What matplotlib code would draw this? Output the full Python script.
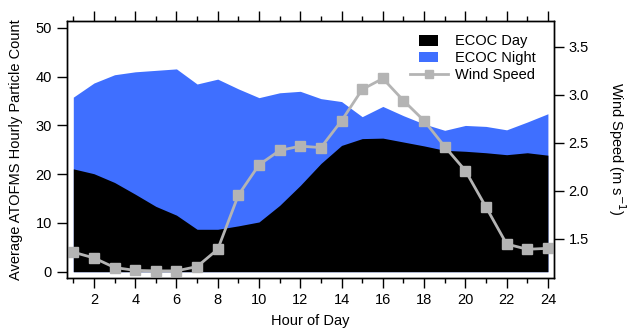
import matplotlib
matplotlib.use("Agg")
import matplotlib.pyplot as plt
from matplotlib.legend_handler import HandlerPatch
from matplotlib.lines import Line2D
from matplotlib.patches import Rectangle
from matplotlib.ticker import MultipleLocator

plt.rcParams["font.family"] = ["Liberation Sans", "DejaVu Sans"]

hours = list(range(1, 25))
ecoc_day = [21.1, 20.1, 18.3, 15.9, 13.4, 11.6, 8.7, 8.7, 9.4, 10.2, 13.6, 17.7,
            22.2, 25.9, 27.3, 27.4, 26.6, 25.8, 24.9, 24.7, 24.4, 24.0, 24.4, 23.9]
ecoc_night = [35.8, 38.7, 40.4, 41.0, 41.3, 41.6, 38.5, 39.5, 37.5, 35.7, 36.7, 37.0,
              35.5, 34.9, 31.8, 33.9, 32.0, 30.3, 29.0, 30.0, 29.8, 29.1, 30.7, 32.4]
wind_speed = [1.36, 1.30, 1.20, 1.17, 1.165, 1.165, 1.21, 1.39, 1.955, 2.27, 2.42, 2.465,
              2.45, 2.73, 3.056, 3.17, 2.94, 2.73, 2.46, 2.21, 1.83, 1.445, 1.39, 1.40]

BLUE = "#3f6fff"
GRAY = "#b4b4b4"


def small_box(legend, orig_handle, xdescent, ydescent, width, height, fontsize):
    # narrow swatch centred in the handle box
    w = width * 0.5
    return Rectangle((-xdescent + (width - w) / 2, -ydescent), w, height)


fig = plt.figure(figsize=(6.28, 3.30), dpi=100)
ax = fig.add_axes([0.1062, 0.1585, 0.7758, 0.7775])
ax2 = ax.twinx()

ax.fill_between(hours, 0, ecoc_night, color=BLUE, lw=0)
ax.fill_between(hours, 0, ecoc_day, color="black", lw=0)
ax2.plot(hours, wind_speed, color=GRAY, lw=2, marker="s", ms=7.5, clip_on=False)

ax.set_xlim(0.68, 24.29)
ax.set_ylim(-1.23, 51.4)
ax2.set_ylim(1.094, 3.768)

ax.xaxis.set_major_locator(MultipleLocator(2))
ax.xaxis.set_minor_locator(MultipleLocator(1))
ax.yaxis.set_major_locator(MultipleLocator(10))
ax2.yaxis.set_major_locator(MultipleLocator(0.5))
ax2.yaxis.set_major_formatter(plt.FormatStrFormatter("%.1f"))

for a in (ax, ax2):
    for s in a.spines.values():
        s.set_linewidth(1.0)
ax.tick_params(axis="x", which="both", direction="out", top=True, labelsize=10.5,
               width=1.0, pad=4)
ax.tick_params(axis="x", which="major", length=7)
ax.tick_params(axis="x", which="minor", length=3.6)
ax.tick_params(axis="y", direction="out", length=7, width=1.0, labelsize=10.5)
ax2.tick_params(axis="y", direction="out", length=7, width=1.0, labelsize=10.5)

ax.set_xlabel("Hour of Day", fontsize=10.5, labelpad=5)
ax.set_ylabel("Average ATOFMS Hourly Particle Count", fontsize=10.5, labelpad=9)
ax2.set_ylabel("Wind Speed (m s$^{-1}$)", fontsize=10.5, rotation=-90,
               va="bottom", labelpad=12)

handles = [
    Rectangle((0, 0), 1, 1, facecolor="black", lw=0),
    Rectangle((0, 0), 1, 1, facecolor=BLUE, lw=0),
    Line2D([], [], color=GRAY, lw=2, marker="s", ms=6),
]
labels = ["ECOC Day", "ECOC Night", "Wind Speed"]
ax.legend(handles, labels, loc="upper right", frameon=False, fontsize=10.5,
          handlelength=2.6, handleheight=0.75, handletextpad=0.5, labelspacing=0.2,
          borderaxespad=0.5, bbox_to_anchor=(0.99, 1.0),
          handler_map={Rectangle: HandlerPatch(patch_func=small_box)})

fig.savefig("out.png", dpi=100)
